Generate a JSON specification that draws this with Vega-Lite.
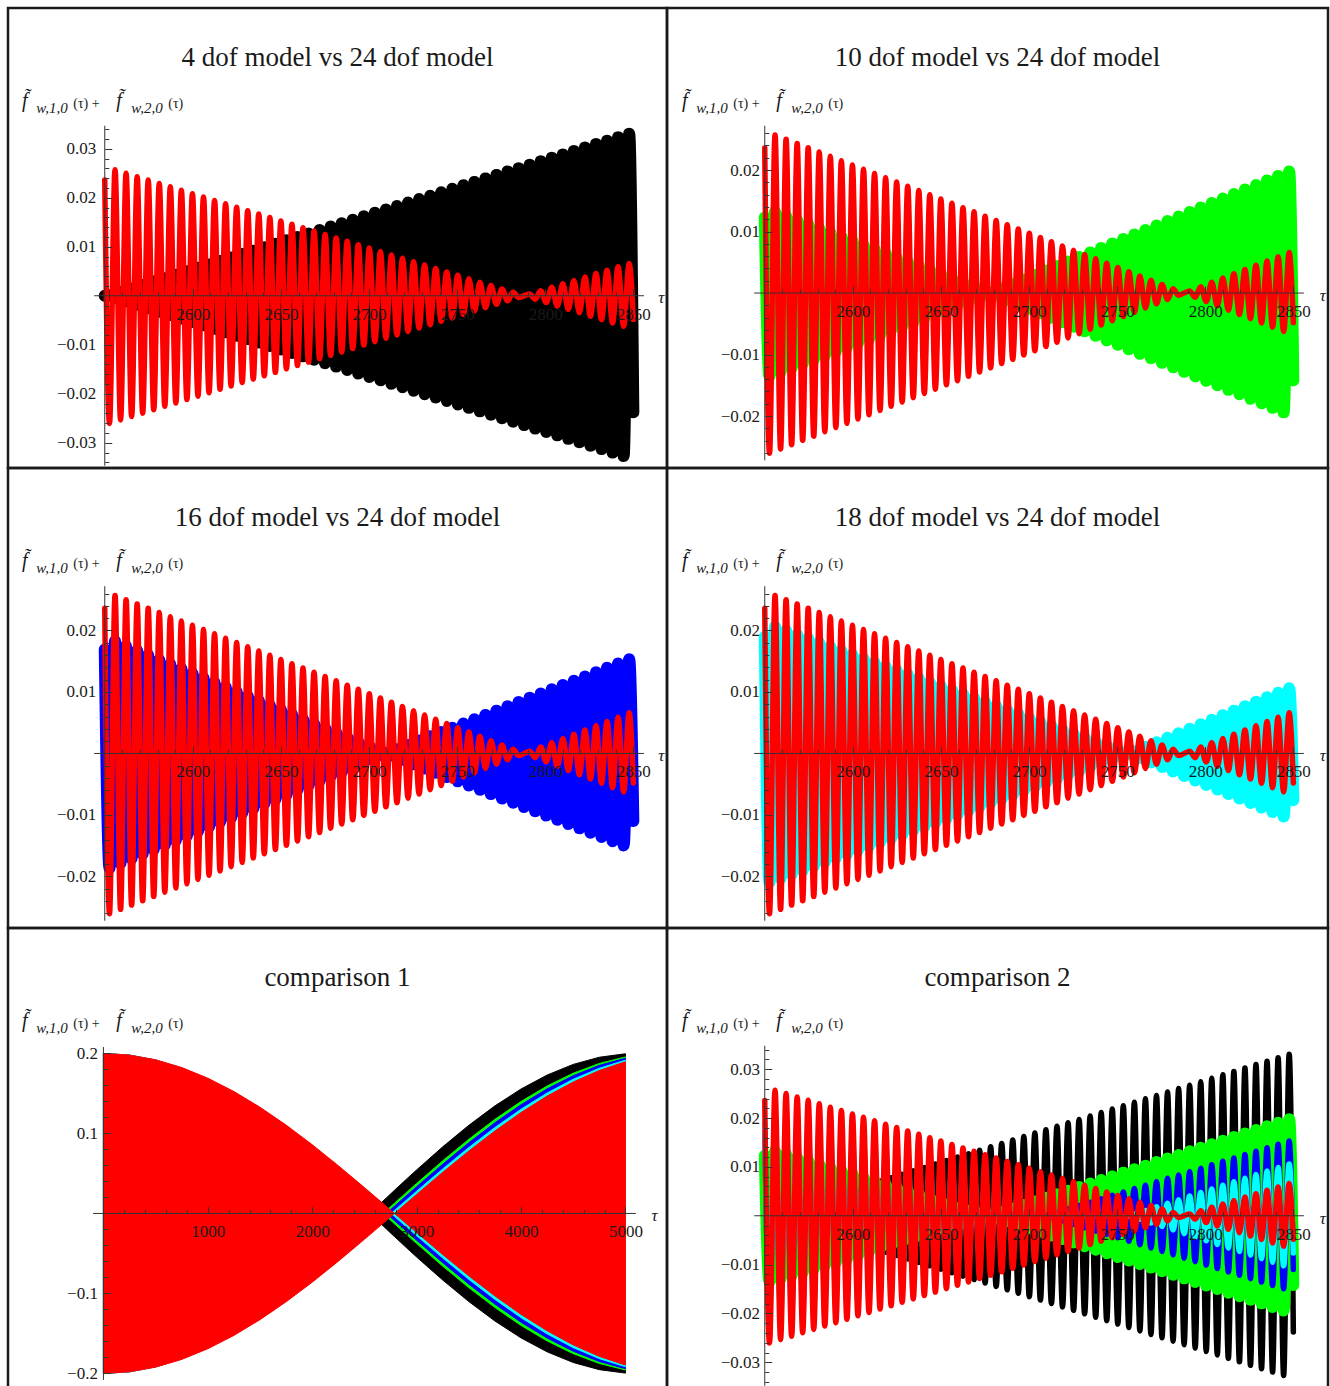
{
  "$schema": "https://vega.github.io/schema/vega-lite/v6.json",
  "padding": {"left": 6, "top": 6, "right": 0, "bottom": 0},
  "bounds": "flush",
  "spacing": 0,
  "columns": 2,
  "config": {
    "view": {"stroke": "#1a1a1a", "strokeWidth": 2.5},
    "axis": {
      "domain": false, "grid": false, "zindex": 1,
      "labelFont": "Liberation Serif", "labelFontSize": 17, "labelColor": "#1a1a1a",
      "labelFlush": false, "labelOverlap": false, "labelBound": false,
      "tickColor": "#333333", "tickWidth": 1,
      "titleFont": "Liberation Serif", "titleFontWeight": "normal", "titleColor": "#1a1a1a",
      "titleAlign": "left", "titleBaseline": "alphabetic", "titleAngle": 0
    },
    "title": {"font": "Liberation Serif", "fontSize": 27, "fontWeight": "normal", "color": "#1a1a1a"}
  },
  "datasets": {
    "osc": [
      {"t":2550,"r":0.0236,"k":0,"g":0.0123,"b":0.0169,"c":0.019},
      {"t":2552.7,"r":-0.02605,"k":0.00008,"g":-0.01356,"b":-0.0186,"c":-0.02093},
      {"t":2555.84,"r":0.0257,"k":-0.00043,"g":0.01322,"b":0.01823,"c":0.02061},
      {"t":2558.98,"r":-0.02535,"k":0.00078,"g":-0.01288,"b":-0.01786,"c":-0.02029},
      {"t":2562.11,"r":0.02501,"k":-0.00113,"g":0.01254,"b":0.01748,"c":0.01996},
      {"t":2565.25,"r":-0.02466,"k":0.00148,"g":-0.0122,"b":-0.01711,"c":-0.01964},
      {"t":2568.39,"r":0.02431,"k":-0.00183,"g":0.01187,"b":0.01674,"c":0.01932},
      {"t":2571.53,"r":-0.02396,"k":0.00218,"g":-0.01153,"b":-0.01637,"c":-0.019},
      {"t":2574.66,"r":0.02362,"k":-0.00254,"g":0.01119,"b":0.016,"c":0.01868},
      {"t":2577.8,"r":-0.02327,"k":0.00289,"g":-0.01085,"b":-0.01562,"c":-0.01835},
      {"t":2580.94,"r":0.02292,"k":-0.00324,"g":0.01051,"b":0.01525,"c":0.01803},
      {"t":2584.08,"r":-0.02257,"k":0.00359,"g":-0.01017,"b":-0.01488,"c":-0.01771},
      {"t":2587.21,"r":0.02223,"k":-0.00394,"g":0.00983,"b":0.01451,"c":0.01739},
      {"t":2590.35,"r":-0.02188,"k":0.00429,"g":-0.00949,"b":-0.01414,"c":-0.01707},
      {"t":2593.49,"r":0.02153,"k":-0.00464,"g":0.00915,"b":0.01376,"c":0.01674},
      {"t":2596.63,"r":-0.02119,"k":0.00499,"g":-0.00881,"b":-0.01339,"c":-0.01642},
      {"t":2599.76,"r":0.02084,"k":-0.00534,"g":0.00848,"b":0.01302,"c":0.0161},
      {"t":2602.9,"r":-0.02049,"k":0.00569,"g":-0.00814,"b":-0.01265,"c":-0.01578},
      {"t":2606.04,"r":0.02014,"k":-0.00604,"g":0.0078,"b":0.01228,"c":0.01546},
      {"t":2609.18,"r":-0.0198,"k":0.00639,"g":-0.00746,"b":-0.0119,"c":-0.01513},
      {"t":2612.31,"r":0.01945,"k":-0.00675,"g":0.00712,"b":0.01153,"c":0.01481},
      {"t":2615.45,"r":-0.0191,"k":0.0071,"g":-0.00678,"b":-0.01116,"c":-0.01449},
      {"t":2618.59,"r":0.01875,"k":-0.00745,"g":0.00644,"b":0.01079,"c":0.01417},
      {"t":2621.73,"r":-0.01841,"k":0.0078,"g":-0.0061,"b":-0.01042,"c":-0.01385},
      {"t":2624.86,"r":0.01806,"k":-0.00815,"g":0.00576,"b":0.01004,"c":0.01352},
      {"t":2628,"r":-0.01771,"k":0.0085,"g":-0.00542,"b":-0.00967,"c":-0.0132},
      {"t":2631.14,"r":0.01737,"k":-0.00885,"g":0.00509,"b":0.0093,"c":0.01288},
      {"t":2634.28,"r":-0.01702,"k":0.0092,"g":-0.00475,"b":-0.00893,"c":-0.01256},
      {"t":2637.41,"r":0.01667,"k":-0.00955,"g":0.00441,"b":0.00856,"c":0.01224},
      {"t":2640.55,"r":-0.01632,"k":0.0099,"g":-0.00407,"b":-0.00818,"c":-0.01191},
      {"t":2643.69,"r":0.01598,"k":-0.01025,"g":0.00373,"b":0.00781,"c":0.01159},
      {"t":2646.83,"r":-0.01563,"k":0.0106,"g":-0.00339,"b":-0.00744,"c":-0.01127},
      {"t":2649.96,"r":0.01528,"k":-0.01095,"g":0.00305,"b":0.00707,"c":0.01095},
      {"t":2653.1,"r":-0.01493,"k":0.01131,"g":-0.00271,"b":-0.0067,"c":-0.01063},
      {"t":2656.24,"r":0.01459,"k":-0.01166,"g":0.00237,"b":0.00632,"c":0.0103},
      {"t":2659.38,"r":-0.01424,"k":0.01201,"g":-0.00203,"b":-0.00595,"c":-0.00998},
      {"t":2662.51,"r":0.01389,"k":-0.01236,"g":0.0017,"b":0.00558,"c":0.00966},
      {"t":2665.65,"r":-0.01354,"k":0.01271,"g":-0.00136,"b":-0.00521,"c":-0.00934},
      {"t":2668.79,"r":0.0132,"k":-0.01306,"g":0.00102,"b":0.00484,"c":0.00902},
      {"t":2671.93,"r":-0.01285,"k":0.01341,"g":-0.00068,"b":-0.00446,"c":-0.00869},
      {"t":2675.06,"r":0.0125,"k":-0.01376,"g":0.00034,"b":0.00409,"c":0.00837},
      {"t":2678.2,"r":-0.01216,"k":0.01411,"g":0,"b":-0.00372,"c":-0.00805},
      {"t":2681.34,"r":0.01181,"k":-0.01446,"g":-0.00037,"b":0.00335,"c":0.00773},
      {"t":2684.48,"r":-0.01146,"k":0.01481,"g":0.00073,"b":-0.00298,"c":-0.00741},
      {"t":2687.61,"r":0.01111,"k":-0.01516,"g":-0.0011,"b":0.0026,"c":0.00708},
      {"t":2690.75,"r":-0.01077,"k":0.01552,"g":0.00146,"b":-0.00223,"c":-0.00676},
      {"t":2693.89,"r":0.01042,"k":-0.01587,"g":-0.00183,"b":0.00186,"c":0.00644},
      {"t":2697.03,"r":-0.01007,"k":0.01622,"g":0.0022,"b":-0.00149,"c":-0.00612},
      {"t":2700.16,"r":0.00972,"k":-0.01657,"g":-0.00256,"b":0.00112,"c":0.0058},
      {"t":2703.3,"r":-0.00938,"k":0.01692,"g":0.00293,"b":-0.00074,"c":-0.00547},
      {"t":2706.44,"r":0.00903,"k":-0.01727,"g":-0.00329,"b":0.00037,"c":0.00515},
      {"t":2709.58,"r":-0.00868,"k":0.01762,"g":0.00366,"b":0,"c":-0.00483},
      {"t":2712.71,"r":0.00834,"k":-0.01797,"g":-0.00403,"b":-0.00035,"c":0.00451},
      {"t":2715.85,"r":-0.00799,"k":0.01832,"g":0.00439,"b":0.0007,"c":-0.00419},
      {"t":2718.99,"r":0.00764,"k":-0.01867,"g":-0.00476,"b":-0.00104,"c":0.00386},
      {"t":2722.13,"r":-0.00729,"k":0.01902,"g":0.00512,"b":0.00139,"c":-0.00354},
      {"t":2725.26,"r":0.00695,"k":-0.01937,"g":-0.00549,"b":-0.00174,"c":0.00322},
      {"t":2728.4,"r":-0.0066,"k":0.01972,"g":0.00586,"b":0.00209,"c":-0.0029},
      {"t":2731.54,"r":0.00625,"k":-0.02008,"g":-0.00622,"b":-0.00244,"c":0.00258},
      {"t":2734.68,"r":-0.0059,"k":0.02043,"g":0.00659,"b":0.00278,"c":-0.00225},
      {"t":2737.81,"r":0.00556,"k":-0.02078,"g":-0.00695,"b":-0.00313,"c":0.00193},
      {"t":2740.95,"r":-0.00521,"k":0.02113,"g":0.00732,"b":0.00348,"c":-0.00161},
      {"t":2744.09,"r":0.00486,"k":-0.02148,"g":-0.00769,"b":-0.00383,"c":0.00129},
      {"t":2747.23,"r":-0.00452,"k":0.02183,"g":0.00805,"b":0.00418,"c":-0.00097},
      {"t":2750.36,"r":0.00417,"k":-0.02218,"g":-0.00842,"b":-0.00452,"c":0.00064},
      {"t":2753.5,"r":-0.00382,"k":0.02253,"g":0.00878,"b":0.00487,"c":-0.00032},
      {"t":2756.64,"r":0.00347,"k":-0.02288,"g":-0.00915,"b":-0.00522,"c":0},
      {"t":2759.78,"r":-0.00313,"k":0.02323,"g":0.00952,"b":0.00557,"c":0.00037},
      {"t":2762.91,"r":0.00278,"k":-0.02358,"g":-0.00988,"b":-0.00592,"c":-0.00073},
      {"t":2766.05,"r":-0.00243,"k":0.02393,"g":0.01025,"b":0.00626,"c":0.0011},
      {"t":2769.19,"r":0.00208,"k":-0.02429,"g":-0.01061,"b":-0.00661,"c":-0.00146},
      {"t":2772.33,"r":-0.00174,"k":0.02464,"g":0.01098,"b":0.00696,"c":0.00183},
      {"t":2775.46,"r":0.00139,"k":-0.02499,"g":-0.01135,"b":-0.00731,"c":-0.0022},
      {"t":2778.6,"r":-0.00104,"k":0.02534,"g":0.01171,"b":0.00766,"c":0.00256},
      {"t":2781.74,"r":0.00069,"k":-0.02569,"g":-0.01208,"b":-0.008,"c":-0.00293},
      {"t":2784.88,"r":-0.00035,"k":0.02604,"g":0.01244,"b":0.00835,"c":0.00329},
      {"t":2788.01,"r":0,"k":-0.02639,"g":-0.01281,"b":-0.0087,"c":-0.00366},
      {"t":2791.15,"r":0.00035,"k":0.02674,"g":0.01318,"b":0.00905,"c":0.00403},
      {"t":2794.29,"r":-0.00069,"k":-0.02709,"g":-0.01354,"b":-0.0094,"c":-0.00439},
      {"t":2797.43,"r":0.00104,"k":0.02744,"g":0.01391,"b":0.00974,"c":0.00476},
      {"t":2800.56,"r":-0.00139,"k":-0.02779,"g":-0.01427,"b":-0.01009,"c":-0.00512},
      {"t":2803.7,"r":0.00174,"k":0.02814,"g":0.01464,"b":0.01044,"c":0.00549},
      {"t":2806.84,"r":-0.00208,"k":-0.02849,"g":-0.01501,"b":-0.01079,"c":-0.00586},
      {"t":2809.98,"r":0.00243,"k":0.02885,"g":0.01537,"b":0.01114,"c":0.00622},
      {"t":2813.11,"r":-0.00278,"k":-0.0292,"g":-0.01574,"b":-0.01148,"c":-0.00659},
      {"t":2816.25,"r":0.00313,"k":0.02955,"g":0.0161,"b":0.01183,"c":0.00695},
      {"t":2819.39,"r":-0.00347,"k":-0.0299,"g":-0.01647,"b":-0.01218,"c":-0.00732},
      {"t":2822.53,"r":0.00382,"k":0.03025,"g":0.01684,"b":0.01253,"c":0.00769},
      {"t":2825.66,"r":-0.00417,"k":-0.0306,"g":-0.0172,"b":-0.01288,"c":-0.00805},
      {"t":2828.8,"r":0.00452,"k":0.03095,"g":0.01757,"b":0.01322,"c":0.00842},
      {"t":2831.94,"r":-0.00486,"k":-0.0313,"g":-0.01793,"b":-0.01357,"c":-0.00878},
      {"t":2835.08,"r":0.00521,"k":0.03165,"g":0.0183,"b":0.01392,"c":0.00915},
      {"t":2838.21,"r":-0.00556,"k":-0.032,"g":-0.01867,"b":-0.01427,"c":-0.00952},
      {"t":2841.35,"r":0.0059,"k":0.03235,"g":0.01903,"b":0.01462,"c":0.00988},
      {"t":2844.49,"r":-0.00625,"k":-0.0327,"g":-0.0194,"b":-0.01496,"c":-0.01025},
      {"t":2847.63,"r":0.0066,"k":0.03306,"g":0.01976,"b":0.01531,"c":0.01061},
      {"t":2850,"r":-0.0048,"k":-0.0238,"g":-0.0142,"b":-0.011,"c":-0.0076}
    ],
    "env": [
      {"t":0,"k":0.2,"kn":-0.2,"g":0.2,"gn":-0.2,"b":0.2,"bn":-0.2,"c":0.2,"cn":-0.2,"r":0.2,"rn":-0.2},
      {"t":250,"k":0.19764,"kn":-0.19764,"g":0.19785,"gn":-0.19785,"b":0.1979,"bn":-0.1979,"c":0.19797,"cn":-0.19797,"r":0.19802,"rn":-0.19802},
      {"t":500,"k":0.1906,"kn":-0.1906,"g":0.19146,"gn":-0.19146,"b":0.19166,"bn":-0.19166,"c":0.19193,"cn":-0.19193,"r":0.19212,"rn":-0.19212},
      {"t":750,"k":0.17906,"kn":-0.17906,"g":0.18096,"gn":-0.18096,"b":0.1814,"bn":-0.1814,"c":0.18199,"cn":-0.18199,"r":0.18241,"rn":-0.18241},
      {"t":1000,"k":0.16329,"kn":-0.16329,"g":0.16657,"gn":-0.16657,"b":0.16733,"bn":-0.16733,"c":0.16836,"cn":-0.16836,"r":0.16909,"rn":-0.16909},
      {"t":1250,"k":0.14367,"kn":-0.14367,"g":0.14861,"gn":-0.14861,"b":0.14976,"bn":-0.14976,"c":0.15132,"cn":-0.15132,"r":0.15242,"rn":-0.15242},
      {"t":1500,"k":0.12064,"kn":-0.12064,"g":0.12746,"gn":-0.12746,"b":0.12905,"bn":-0.12905,"c":0.13121,"cn":-0.13121,"r":0.13273,"rn":-0.13273},
      {"t":1750,"k":0.09477,"kn":-0.09477,"g":0.10357,"gn":-0.10357,"b":0.10563,"bn":-0.10563,"c":0.10843,"cn":-0.10843,"r":0.11041,"rn":-0.11041},
      {"t":2000,"k":0.06665,"kn":-0.06665,"g":0.07746,"gn":-0.07746,"b":0.08,"bn":-0.08,"c":0.08346,"cn":-0.08346,"r":0.08591,"rn":-0.08591},
      {"t":2250,"k":0.03696,"kn":-0.03696,"g":0.04968,"gn":-0.04968,"b":0.0527,"bn":-0.0527,"c":0.05679,"cn":-0.05679,"r":0.0597,"rn":-0.0597},
      {"t":2500,"k":0.0064,"kn":-0.0064,"g":0.02084,"gn":-0.02084,"b":0.02428,"bn":-0.02428,"c":0.02898,"cn":-0.02898,"r":0.03231,"rn":-0.03231},
      {"t":2552,"k":0,"kn":0,"g":0.01477,"gn":-0.01477,"b":0.01829,"bn":-0.01829,"c":0.0231,"cn":-0.0231,"r":0.02652,"rn":-0.02652},
      {"t":2600,"k":0.00591,"kn":-0.00591,"g":0.00914,"gn":-0.00914,"b":0.01274,"bn":-0.01274,"c":0.01765,"cn":-0.01765,"r":0.02115,"rn":-0.02115},
      {"t":2678,"k":0.0155,"kn":-0.0155,"g":0,"gn":0,"b":0.00371,"bn":-0.00371,"c":0.00878,"cn":-0.00878,"r":0.01239,"rn":-0.01239},
      {"t":2710,"k":0.01942,"kn":-0.01942,"g":0.00376,"gn":-0.00376,"b":0,"bn":0,"c":0.00513,"cn":-0.00513,"r":0.00879,"rn":-0.00879},
      {"t":2755,"k":0.02493,"kn":-0.02493,"g":0.00903,"gn":-0.00903,"b":0.00522,"bn":-0.00522,"c":0,"cn":0,"r":0.00372,"rn":-0.00372},
      {"t":2788,"k":0.02895,"kn":-0.02895,"g":0.0129,"gn":-0.0129,"b":0.00904,"bn":-0.00904,"c":0.00376,"cn":-0.00376,"r":0,"rn":0},
      {"t":2900,"k":0.04252,"kn":-0.04252,"g":0.02597,"gn":-0.02597,"b":0.02198,"bn":-0.02198,"c":0.01651,"cn":-0.01651,"r":0.01261,"rn":-0.01261},
      {"t":3000,"k":0.05446,"kn":-0.05446,"g":0.03755,"gn":-0.03755,"b":0.03346,"bn":-0.03346,"c":0.02785,"cn":-0.02785,"r":0.02383,"rn":-0.02383},
      {"t":3250,"k":0.08331,"kn":-0.08331,"g":0.06585,"gn":-0.06585,"b":0.06158,"bn":-0.06158,"c":0.0557,"cn":-0.0557,"r":0.05147,"rn":-0.05147},
      {"t":3500,"k":0.11019,"kn":-0.11019,"g":0.09274,"gn":-0.09274,"b":0.08841,"bn":-0.08841,"c":0.08242,"cn":-0.08242,"r":0.07809,"rn":-0.07809},
      {"t":3750,"k":0.13447,"kn":-0.13447,"g":0.11763,"gn":-0.11763,"b":0.11339,"bn":-0.11339,"c":0.10747,"cn":-0.10747,"r":0.10317,"rn":-0.10317},
      {"t":4000,"k":0.15558,"kn":-0.15558,"g":0.14001,"gn":-0.14001,"b":0.13599,"bn":-0.13599,"c":0.13034,"cn":-0.13034,"r":0.1262,"rn":-0.1262},
      {"t":4250,"k":0.173,"kn":-0.173,"g":0.15937,"gn":-0.15937,"b":0.15575,"bn":-0.15575,"c":0.15057,"cn":-0.15057,"r":0.14673,"rn":-0.14673},
      {"t":4500,"k":0.18634,"kn":-0.18634,"g":0.17532,"gn":-0.17532,"b":0.17223,"bn":-0.17223,"c":0.16774,"cn":-0.16774,"r":0.16436,"rn":-0.16436},
      {"t":4750,"k":0.19527,"kn":-0.19527,"g":0.1875,"gn":-0.1875,"b":0.18511,"bn":-0.18511,"c":0.18151,"cn":-0.18151,"r":0.17873,"rn":-0.17873},
      {"t":5000,"k":0.19959,"kn":-0.19959,"g":0.19566,"gn":-0.19566,"b":0.1941,"bn":-0.1941,"c":0.1916,"cn":-0.1916,"r":0.18956,"rn":-0.18956}
    ]
  },
  "concat": [
    {
      "width": 659, "height": 460,
      "title": {"text": "4 dof model vs 24 dof model", "offset": -84.5, "frame": "group", "baseline": "alphabetic", "anchor": "middle"},
      "resolve": {"axis": {"x": "independent", "y": "independent"}},
      "layer": [
        {
          "data": {"name": "osc"},
          "mark": {"type": "line", "interpolate": "monotone", "color": "#000000", "strokeWidth": 12, "strokeCap": "round", "strokeJoin": "round"},
          "encoding": {
            "x": {"field": "t", "type": "quantitative", "scale": {"domain": [2495.09, 2869.1], "nice": false, "zero": false},
              "axis": {"orient": "bottom", "offset": -172.25, "zindex": 2, "values": [2600,2650,2700,2750,2800,2850], "tickSize": -7, "format": "d",
                "labelPadding": 30.5, "labelBaseline": "alphabetic",
                "title": "τ", "titleX": 652.75, "titleY": 6.7, "titleAlign": "center", "titleFontStyle": "italic", "titleFontSize": 17}},
            "y": {"field": "k", "type": "quantitative", "scale": {"domain": [-0.035153, 0.058724], "nice": false, "zero": false},
              "axis": {"orient": "left", "offset": -96.75, "zindex": 2, "values": [-0.03,-0.02,-0.01,0.01,0.02,0.03], "tickSize": -7,
                "labelExpr": "datum.value < 0 ? '−' + format(-datum.value, '.2f') : format(datum.value, '.2f')",
                "labelPadding": 16,
                "title": "f̃", "titleX": -83.3, "titleY": 98.75, "titleFontStyle": "italic", "titleFontSize": 20}}
          }
        },
        {
          "data": {"name": "osc"},
          "mark": {"type": "line", "interpolate": "monotone", "color": "#ff0000", "strokeWidth": 5.5, "strokeCap": "round", "strokeJoin": "round"},
          "encoding": {
            "x": {"field": "t", "type": "quantitative",
              "axis": {"orient": "bottom", "offset": -172.25, "zindex": 2, "values": [2560,2570,2580,2590,2610,2620,2630,2640,2660,2670,2680,2690,2710,2720,2730,2740,2760,2770,2780,2790,2810,2820,2830,2840], "tickSize": -4, "labels": false,
                "title": "(τ) +", "titleX": 64.75, "titleY": -188.3, "titleFontSize": 14}},
            "y": {"field": "r", "type": "quantitative",
              "axis": {"orient": "left", "offset": -96.75, "zindex": 2, "values": [-0.034,-0.032,-0.028,-0.026,-0.024,-0.022,-0.018,-0.016,-0.014,-0.012,-0.008,-0.006,-0.004,-0.002,0.002,0.004,0.006,0.008,0.012,0.014,0.016,0.018,0.022,0.024,0.026,0.028,0.032,0.034], "tickSize": -4, "labels": false,
                "title": "w,1,0", "titleX": -69, "titleY": 104.45, "titleFontStyle": "italic", "titleFontSize": 15}}
          }
        },
        {
          "data": {"values": [{}]},
          "mark": {"type": "rule", "color": "#333333", "strokeWidth": 1},
          "encoding": {
            "x": {"datum": 2544, "axis": {"orient": "bottom", "offset": -172.25, "zindex": 2, "ticks": false, "labels": false, "title": "f̃", "titleX": 107.75, "titleY": -189, "titleFontStyle": "italic", "titleFontSize": 20}},
            "x2": {"datum": 2856},
            "y": {"datum": 0, "axis": {"orient": "left", "offset": -96.75, "zindex": 2, "ticks": false, "labels": false, "title": "w,2,0", "titleX": 26, "titleY": 104.45, "titleFontStyle": "italic", "titleFontSize": 15}}
          }
        },
        {
          "data": {"values": [{}]},
          "mark": {"type": "rule", "color": "#333333", "strokeWidth": 1},
          "encoding": {
            "x": {"datum": 2550, "axis": {"orient": "bottom", "offset": -172.25, "zindex": 2, "ticks": false, "labels": false, "title": "(τ)", "titleX": 159.75, "titleY": -188.3, "titleFontSize": 14}},
            "y": {"datum": -0.0347, "axis": null}, "y2": {"datum": 0.0347}
          }
        }
      ]
    },
    {
      "width": 661, "height": 460,
      "title": {"text": "10 dof model vs 24 dof model", "offset": -84.5, "frame": "group", "baseline": "alphabetic", "anchor": "middle"},
      "resolve": {"axis": {"x": "independent", "y": "independent"}},
      "layer": [
        {
          "data": {"name": "osc"},
          "mark": {"type": "line", "interpolate": "monotone", "color": "#00ff00", "strokeWidth": 12, "strokeCap": "round", "strokeJoin": "round"},
          "encoding": {
            "x": {"field": "t", "type": "quantitative", "scale": {"domain": [2494.52, 2869.67], "nice": false, "zero": false},
              "axis": {"orient": "bottom", "offset": -174.95, "zindex": 2, "values": [2600,2650,2700,2750,2800,2850], "tickSize": -7, "format": "d",
                "labelPadding": 30.5, "labelBaseline": "alphabetic",
                "title": "τ", "titleX": 655.4, "titleY": 7.7, "titleAlign": "center", "titleFontStyle": "italic", "titleFontSize": 17}},
            "y": {"field": "g", "type": "quantitative", "scale": {"domain": [-0.028447, 0.04635], "nice": false, "zero": false},
              "axis": {"orient": "left", "offset": -97.75, "zindex": 2, "values": [-0.02,-0.01,0.01,0.02], "tickSize": -7,
                "labelExpr": "datum.value < 0 ? '−' + format(-datum.value, '.2f') : format(datum.value, '.2f')",
                "labelPadding": 12.2,
                "title": "f̃", "titleX": -83.3, "titleY": 98.75, "titleFontStyle": "italic", "titleFontSize": 20}}
          }
        },
        {
          "data": {"name": "osc"},
          "mark": {"type": "line", "interpolate": "monotone", "color": "#ff0000", "strokeWidth": 5.5, "strokeCap": "round", "strokeJoin": "round"},
          "encoding": {
            "x": {"field": "t", "type": "quantitative",
              "axis": {"orient": "bottom", "offset": -174.95, "zindex": 2, "values": [2560,2570,2580,2590,2610,2620,2630,2640,2660,2670,2680,2690,2710,2720,2730,2740,2760,2770,2780,2790,2810,2820,2830,2840], "tickSize": -4, "labels": false,
                "title": "(τ) +", "titleX": 65.75, "titleY": -185.6, "titleFontSize": 14}},
            "y": {"field": "r", "type": "quantitative",
              "axis": {"orient": "left", "offset": -97.75, "zindex": 2, "values": [-0.026,-0.024,-0.022,-0.018,-0.016,-0.014,-0.012,-0.008,-0.006,-0.004,-0.002,0.002,0.004,0.006,0.008,0.012,0.014,0.016,0.018,0.022,0.024,0.026], "tickSize": -4, "labels": false,
                "title": "w,1,0", "titleX": -69, "titleY": 104.45, "titleFontStyle": "italic", "titleFontSize": 15}}
          }
        },
        {
          "data": {"values": [{}]},
          "mark": {"type": "rule", "color": "#333333", "strokeWidth": 1},
          "encoding": {
            "x": {"datum": 2544, "axis": {"orient": "bottom", "offset": -174.95, "zindex": 2, "ticks": false, "labels": false, "title": "f̃", "titleX": 108.75, "titleY": -186.3, "titleFontStyle": "italic", "titleFontSize": 20}},
            "x2": {"datum": 2856},
            "y": {"datum": 0, "axis": {"orient": "left", "offset": -97.75, "zindex": 2, "ticks": false, "labels": false, "title": "w,2,0", "titleX": 26, "titleY": 104.45, "titleFontStyle": "italic", "titleFontSize": 15}}
          }
        },
        {
          "data": {"values": [{}]},
          "mark": {"type": "rule", "color": "#333333", "strokeWidth": 1},
          "encoding": {
            "x": {"datum": 2550, "axis": {"orient": "bottom", "offset": -174.95, "zindex": 2, "ticks": false, "labels": false, "title": "(τ)", "titleX": 160.75, "titleY": -185.6, "titleFontSize": 14}},
            "y": {"datum": -0.0272, "axis": null}, "y2": {"datum": 0.0272}
          }
        }
      ]
    },
    {
      "width": 659, "height": 460,
      "title": {"text": "16 dof model vs 24 dof model", "offset": -84.5, "frame": "group", "baseline": "alphabetic", "anchor": "middle"},
      "resolve": {"axis": {"x": "independent", "y": "independent"}},
      "layer": [
        {
          "data": {"name": "osc"},
          "mark": {"type": "line", "interpolate": "monotone", "color": "#0000ff", "strokeWidth": 12, "strokeCap": "round", "strokeJoin": "round"},
          "encoding": {
            "x": {"field": "t", "type": "quantitative", "scale": {"domain": [2495.09, 2869.1], "nice": false, "zero": false},
              "axis": {"orient": "bottom", "offset": -174.55, "zindex": 2, "values": [2600,2650,2700,2750,2800,2850], "tickSize": -7, "format": "d",
                "labelPadding": 30.5, "labelBaseline": "alphabetic",
                "title": "τ", "titleX": 652.75, "titleY": 7, "titleAlign": "center", "titleFontStyle": "italic", "titleFontSize": 17}},
            "y": {"field": "b", "type": "quantitative", "scale": {"domain": [-0.028382, 0.046415], "nice": false, "zero": false},
              "axis": {"orient": "left", "offset": -96.75, "zindex": 2, "values": [-0.02,-0.01,0.01,0.02], "tickSize": -7,
                "labelExpr": "datum.value < 0 ? '−' + format(-datum.value, '.2f') : format(datum.value, '.2f')",
                "labelPadding": 16,
                "title": "f̃", "titleX": -83.3, "titleY": 98.75, "titleFontStyle": "italic", "titleFontSize": 20}}
          }
        },
        {
          "data": {"name": "osc"},
          "mark": {"type": "line", "interpolate": "monotone", "color": "#ff0000", "strokeWidth": 5.5, "strokeCap": "round", "strokeJoin": "round"},
          "encoding": {
            "x": {"field": "t", "type": "quantitative",
              "axis": {"orient": "bottom", "offset": -174.55, "zindex": 2, "values": [2560,2570,2580,2590,2610,2620,2630,2640,2660,2670,2680,2690,2710,2720,2730,2740,2760,2770,2780,2790,2810,2820,2830,2840], "tickSize": -4, "labels": false,
                "title": "(τ) +", "titleX": 64.75, "titleY": -186, "titleFontSize": 14}},
            "y": {"field": "r", "type": "quantitative",
              "axis": {"orient": "left", "offset": -96.75, "zindex": 2, "values": [-0.026,-0.024,-0.022,-0.018,-0.016,-0.014,-0.012,-0.008,-0.006,-0.004,-0.002,0.002,0.004,0.006,0.008,0.012,0.014,0.016,0.018,0.022,0.024,0.026], "tickSize": -4, "labels": false,
                "title": "w,1,0", "titleX": -69, "titleY": 104.45, "titleFontStyle": "italic", "titleFontSize": 15}}
          }
        },
        {
          "data": {"values": [{}]},
          "mark": {"type": "rule", "color": "#333333", "strokeWidth": 1},
          "encoding": {
            "x": {"datum": 2544, "axis": {"orient": "bottom", "offset": -174.55, "zindex": 2, "ticks": false, "labels": false, "title": "f̃", "titleX": 107.75, "titleY": -186.7, "titleFontStyle": "italic", "titleFontSize": 20}},
            "x2": {"datum": 2856},
            "y": {"datum": 0, "axis": {"orient": "left", "offset": -96.75, "zindex": 2, "ticks": false, "labels": false, "title": "w,2,0", "titleX": 26, "titleY": 104.45, "titleFontStyle": "italic", "titleFontSize": 15}}
          }
        },
        {
          "data": {"values": [{}]},
          "mark": {"type": "rule", "color": "#333333", "strokeWidth": 1},
          "encoding": {
            "x": {"datum": 2550, "axis": {"orient": "bottom", "offset": -174.55, "zindex": 2, "ticks": false, "labels": false, "title": "(τ)", "titleX": 159.75, "titleY": -186, "titleFontSize": 14}},
            "y": {"datum": -0.0272, "axis": null}, "y2": {"datum": 0.0272}
          }
        }
      ]
    },
    {
      "width": 661, "height": 460,
      "title": {"text": "18 dof model vs 24 dof model", "offset": -84.5, "frame": "group", "baseline": "alphabetic", "anchor": "middle"},
      "resolve": {"axis": {"x": "independent", "y": "independent"}},
      "layer": [
        {
          "data": {"name": "osc"},
          "mark": {"type": "line", "interpolate": "monotone", "color": "#00ffff", "strokeWidth": 12, "strokeCap": "round", "strokeJoin": "round"},
          "encoding": {
            "x": {"field": "t", "type": "quantitative", "scale": {"domain": [2494.52, 2869.67], "nice": false, "zero": false},
              "axis": {"orient": "bottom", "offset": -174.55, "zindex": 2, "values": [2600,2650,2700,2750,2800,2850], "tickSize": -7, "format": "d",
                "labelPadding": 30.5, "labelBaseline": "alphabetic",
                "title": "τ", "titleX": 655.4, "titleY": 7, "titleAlign": "center", "titleFontStyle": "italic", "titleFontSize": 17}},
            "y": {"field": "c", "type": "quantitative", "scale": {"domain": [-0.028382, 0.046415], "nice": false, "zero": false},
              "axis": {"orient": "left", "offset": -97.75, "zindex": 2, "values": [-0.02,-0.01,0.01,0.02], "tickSize": -7,
                "labelExpr": "datum.value < 0 ? '−' + format(-datum.value, '.2f') : format(datum.value, '.2f')",
                "labelPadding": 12.2,
                "title": "f̃", "titleX": -83.3, "titleY": 98.75, "titleFontStyle": "italic", "titleFontSize": 20}}
          }
        },
        {
          "data": {"name": "osc"},
          "mark": {"type": "line", "interpolate": "monotone", "color": "#ff0000", "strokeWidth": 5.5, "strokeCap": "round", "strokeJoin": "round"},
          "encoding": {
            "x": {"field": "t", "type": "quantitative",
              "axis": {"orient": "bottom", "offset": -174.55, "zindex": 2, "values": [2560,2570,2580,2590,2610,2620,2630,2640,2660,2670,2680,2690,2710,2720,2730,2740,2760,2770,2780,2790,2810,2820,2830,2840], "tickSize": -4, "labels": false,
                "title": "(τ) +", "titleX": 65.75, "titleY": -186, "titleFontSize": 14}},
            "y": {"field": "r", "type": "quantitative",
              "axis": {"orient": "left", "offset": -97.75, "zindex": 2, "values": [-0.026,-0.024,-0.022,-0.018,-0.016,-0.014,-0.012,-0.008,-0.006,-0.004,-0.002,0.002,0.004,0.006,0.008,0.012,0.014,0.016,0.018,0.022,0.024,0.026], "tickSize": -4, "labels": false,
                "title": "w,1,0", "titleX": -69, "titleY": 104.45, "titleFontStyle": "italic", "titleFontSize": 15}}
          }
        },
        {
          "data": {"values": [{}]},
          "mark": {"type": "rule", "color": "#333333", "strokeWidth": 1},
          "encoding": {
            "x": {"datum": 2544, "axis": {"orient": "bottom", "offset": -174.55, "zindex": 2, "ticks": false, "labels": false, "title": "f̃", "titleX": 108.75, "titleY": -186.7, "titleFontStyle": "italic", "titleFontSize": 20}},
            "x2": {"datum": 2856},
            "y": {"datum": 0, "axis": {"orient": "left", "offset": -97.75, "zindex": 2, "ticks": false, "labels": false, "title": "w,2,0", "titleX": 26, "titleY": 104.45, "titleFontStyle": "italic", "titleFontSize": 15}}
          }
        },
        {
          "data": {"values": [{}]},
          "mark": {"type": "rule", "color": "#333333", "strokeWidth": 1},
          "encoding": {
            "x": {"datum": 2550, "axis": {"orient": "bottom", "offset": -174.55, "zindex": 2, "ticks": false, "labels": false, "title": "(τ)", "titleX": 160.75, "titleY": -186, "titleFontSize": 14}},
            "y": {"datum": -0.0272, "axis": null}, "y2": {"datum": 0.0272}
          }
        }
      ]
    },
    {
      "width": 659, "height": 460,
      "title": {"text": "comparison 1", "offset": -84.5, "frame": "group", "baseline": "alphabetic", "anchor": "middle"},
      "resolve": {"axis": {"x": "independent", "y": "independent"}},
      "layer": [
        {
          "data": {"name": "env"},
          "mark": {"type": "area", "color": "#000000", "stroke": "#000000", "strokeWidth": 1},
          "encoding": {
            "x": {"field": "t", "type": "quantitative", "scale": {"domain": [-914.3, 5398.0], "nice": false, "zero": false},
              "axis": {"orient": "bottom", "offset": -174.55, "zindex": 2, "values": [1000,2000,3000,4000,5000], "tickSize": -7, "format": "d",
                "labelPadding": 30.5, "labelBaseline": "alphabetic",
                "title": "τ", "titleX": 646, "titleY": 7.3, "titleAlign": "center", "titleFontStyle": "italic", "titleFontSize": 17}},
            "y": {"field": "k", "type": "quantitative", "scale": {"domain": [-0.21819, 0.35681], "nice": false, "zero": false},
              "axis": {"orient": "left", "offset": -95.45, "zindex": 2, "values": [-0.2,-0.1,0.1,0.2], "tickSize": -7,
                "labelExpr": "datum.value < 0 ? '−' + format(-datum.value, '.1f') : format(datum.value, '.1f')",
                "labelPadding": 13,
                "title": "f̃", "titleX": -82, "titleY": 98.75, "titleFontStyle": "italic", "titleFontSize": 20}},
            "y2": {"field": "kn"}
          }
        },
        {
          "data": {"name": "env"},
          "mark": {"type": "area", "color": "#00ff00", "stroke": "#00ff00", "strokeWidth": 1},
          "encoding": {
            "x": {"field": "t", "type": "quantitative",
              "axis": {"orient": "bottom", "offset": -174.55, "zindex": 2, "values": [200,400,600,800,1200,1400,1600,1800,2200,2400,2600,2800,3200,3400,3600,3800,4200,4400,4600,4800], "tickSize": -4, "labels": false,
                "title": "(τ) +", "titleX": 64.75, "titleY": -186, "titleFontSize": 14}},
            "y": {"field": "g", "type": "quantitative",
              "axis": {"orient": "left", "offset": -95.45, "zindex": 2, "values": [-0.18,-0.16,-0.14,-0.12,-0.08,-0.06,-0.04,-0.02,0.02,0.04,0.06,0.08,0.12,0.14,0.16,0.18], "tickSize": -4, "labels": false,
                "title": "w,1,0", "titleX": -67.7, "titleY": 104.45, "titleFontStyle": "italic", "titleFontSize": 15}},
            "y2": {"field": "gn"}
          }
        },
        {
          "data": {"name": "env"},
          "mark": {"type": "area", "color": "#0000ff", "stroke": "#0000ff", "strokeWidth": 1},
          "encoding": {"x": {"field": "t", "type": "quantitative", "axis": null}, "y": {"field": "b", "type": "quantitative", "axis": null}, "y2": {"field": "bn"}}
        },
        {
          "data": {"name": "env"},
          "mark": {"type": "area", "color": "#00ffff", "stroke": "#00ffff", "strokeWidth": 1},
          "encoding": {"x": {"field": "t", "type": "quantitative", "axis": null}, "y": {"field": "c", "type": "quantitative", "axis": null}, "y2": {"field": "cn"}}
        },
        {
          "data": {"name": "env"},
          "mark": {"type": "area", "color": "#ff0000", "stroke": "#ff0000", "strokeWidth": 1},
          "encoding": {"x": {"field": "t", "type": "quantitative", "axis": null}, "y": {"field": "r", "type": "quantitative", "axis": null}, "y2": {"field": "rn"}}
        },
        {
          "data": {"values": [{}]},
          "mark": {"type": "rule", "color": "#333333", "strokeWidth": 1},
          "encoding": {
            "x": {"datum": -100, "axis": {"orient": "bottom", "offset": -174.55, "zindex": 2, "ticks": false, "labels": false, "title": "f̃", "titleX": 107.75, "titleY": -186.7, "titleFontStyle": "italic", "titleFontSize": 20}},
            "x2": {"datum": 5100},
            "y": {"datum": 0, "axis": {"orient": "left", "offset": -95.45, "zindex": 2, "ticks": false, "labels": false, "title": "w,2,0", "titleX": 27.3, "titleY": 104.45, "titleFontStyle": "italic", "titleFontSize": 15}}
          }
        },
        {
          "data": {"values": [{}]},
          "mark": {"type": "rule", "color": "#333333", "strokeWidth": 1},
          "encoding": {
            "x": {"datum": 0, "axis": {"orient": "bottom", "offset": -174.55, "zindex": 2, "ticks": false, "labels": false, "title": "(τ)", "titleX": 159.75, "titleY": -186, "titleFontSize": 14}},
            "y": {"datum": -0.208, "axis": null}, "y2": {"datum": 0.208}
          }
        }
      ]
    },
    {
      "width": 661, "height": 460,
      "title": {"text": "comparison 2", "offset": -84.5, "frame": "group", "baseline": "alphabetic", "anchor": "middle"},
      "resolve": {"axis": {"x": "independent", "y": "independent"}},
      "layer": [
        {
          "data": {"name": "osc"},
          "mark": {"type": "line", "interpolate": "monotone", "color": "#000000", "strokeWidth": 5.5, "strokeCap": "round", "strokeJoin": "round"},
          "encoding": {
            "x": {"field": "t", "type": "quantitative", "scale": {"domain": [2494.52, 2869.67], "nice": false, "zero": false},
              "axis": {"orient": "bottom", "offset": -172.25, "zindex": 2, "values": [2600,2650,2700,2750,2800,2850], "tickSize": -7, "format": "d",
                "labelPadding": 30.5, "labelBaseline": "alphabetic",
                "title": "τ", "titleX": 655.4, "titleY": 8, "titleAlign": "center", "titleFontStyle": "italic", "titleFontSize": 17}},
            "y": {"field": "k", "type": "quantitative", "scale": {"domain": [-0.035261, 0.058905], "nice": false, "zero": false},
              "axis": {"orient": "left", "offset": -97.75, "zindex": 2, "values": [-0.03,-0.02,-0.01,0.01,0.02,0.03], "tickSize": -7,
                "labelExpr": "datum.value < 0 ? '−' + format(-datum.value, '.2f') : format(datum.value, '.2f')",
                "labelPadding": 12.2,
                "title": "f̃", "titleX": -83.3, "titleY": 98.75, "titleFontStyle": "italic", "titleFontSize": 20}}
          }
        },
        {
          "data": {"name": "osc"},
          "mark": {"type": "line", "interpolate": "monotone", "color": "#00ff00", "strokeWidth": 12, "strokeCap": "round", "strokeJoin": "round"},
          "encoding": {
            "x": {"field": "t", "type": "quantitative",
              "axis": {"orient": "bottom", "offset": -172.25, "zindex": 2, "values": [2560,2570,2580,2590,2610,2620,2630,2640,2660,2670,2680,2690,2710,2720,2730,2740,2760,2770,2780,2790,2810,2820,2830,2840], "tickSize": -4, "labels": false,
                "title": "(τ) +", "titleX": 65.75, "titleY": -188.3, "titleFontSize": 14}},
            "y": {"field": "g", "type": "quantitative",
              "axis": {"orient": "left", "offset": -97.75, "zindex": 2, "values": [-0.034,-0.032,-0.028,-0.026,-0.024,-0.022,-0.018,-0.016,-0.014,-0.012,-0.008,-0.006,-0.004,-0.002,0.002,0.004,0.006,0.008,0.012,0.014,0.016,0.018,0.022,0.024,0.026,0.028,0.032,0.034], "tickSize": -4, "labels": false,
                "title": "w,1,0", "titleX": -69, "titleY": 104.45, "titleFontStyle": "italic", "titleFontSize": 15}}
          }
        },
        {
          "data": {"name": "osc"},
          "mark": {"type": "line", "interpolate": "monotone", "color": "#0000ff", "strokeWidth": 5.5, "strokeCap": "round", "strokeJoin": "round"},
          "encoding": {"x": {"field": "t", "type": "quantitative", "axis": null}, "y": {"field": "b", "type": "quantitative", "axis": null}}
        },
        {
          "data": {"name": "osc"},
          "mark": {"type": "line", "interpolate": "monotone", "color": "#00ffff", "strokeWidth": 5.5, "strokeCap": "round", "strokeJoin": "round"},
          "encoding": {"x": {"field": "t", "type": "quantitative", "axis": null}, "y": {"field": "c", "type": "quantitative", "axis": null}}
        },
        {
          "data": {"name": "osc"},
          "mark": {"type": "line", "interpolate": "monotone", "color": "#ff0000", "strokeWidth": 5.5, "strokeCap": "round", "strokeJoin": "round"},
          "encoding": {"x": {"field": "t", "type": "quantitative", "axis": null}, "y": {"field": "r", "type": "quantitative", "axis": null}}
        },
        {
          "data": {"values": [{}]},
          "mark": {"type": "rule", "color": "#333333", "strokeWidth": 1},
          "encoding": {
            "x": {"datum": 2544, "axis": {"orient": "bottom", "offset": -172.25, "zindex": 2, "ticks": false, "labels": false, "title": "f̃", "titleX": 108.75, "titleY": -189, "titleFontStyle": "italic", "titleFontSize": 20}},
            "x2": {"datum": 2856},
            "y": {"datum": 0, "axis": {"orient": "left", "offset": -97.75, "zindex": 2, "ticks": false, "labels": false, "title": "w,2,0", "titleX": 26, "titleY": 104.45, "titleFontStyle": "italic", "titleFontSize": 15}}
          }
        },
        {
          "data": {"values": [{}]},
          "mark": {"type": "rule", "color": "#333333", "strokeWidth": 1},
          "encoding": {
            "x": {"datum": 2550, "axis": {"orient": "bottom", "offset": -172.25, "zindex": 2, "ticks": false, "labels": false, "title": "(τ)", "titleX": 160.75, "titleY": -188.3, "titleFontSize": 14}},
            "y": {"datum": -0.0348, "axis": null}, "y2": {"datum": 0.0348}
          }
        }
      ]
    }
  ]
}
